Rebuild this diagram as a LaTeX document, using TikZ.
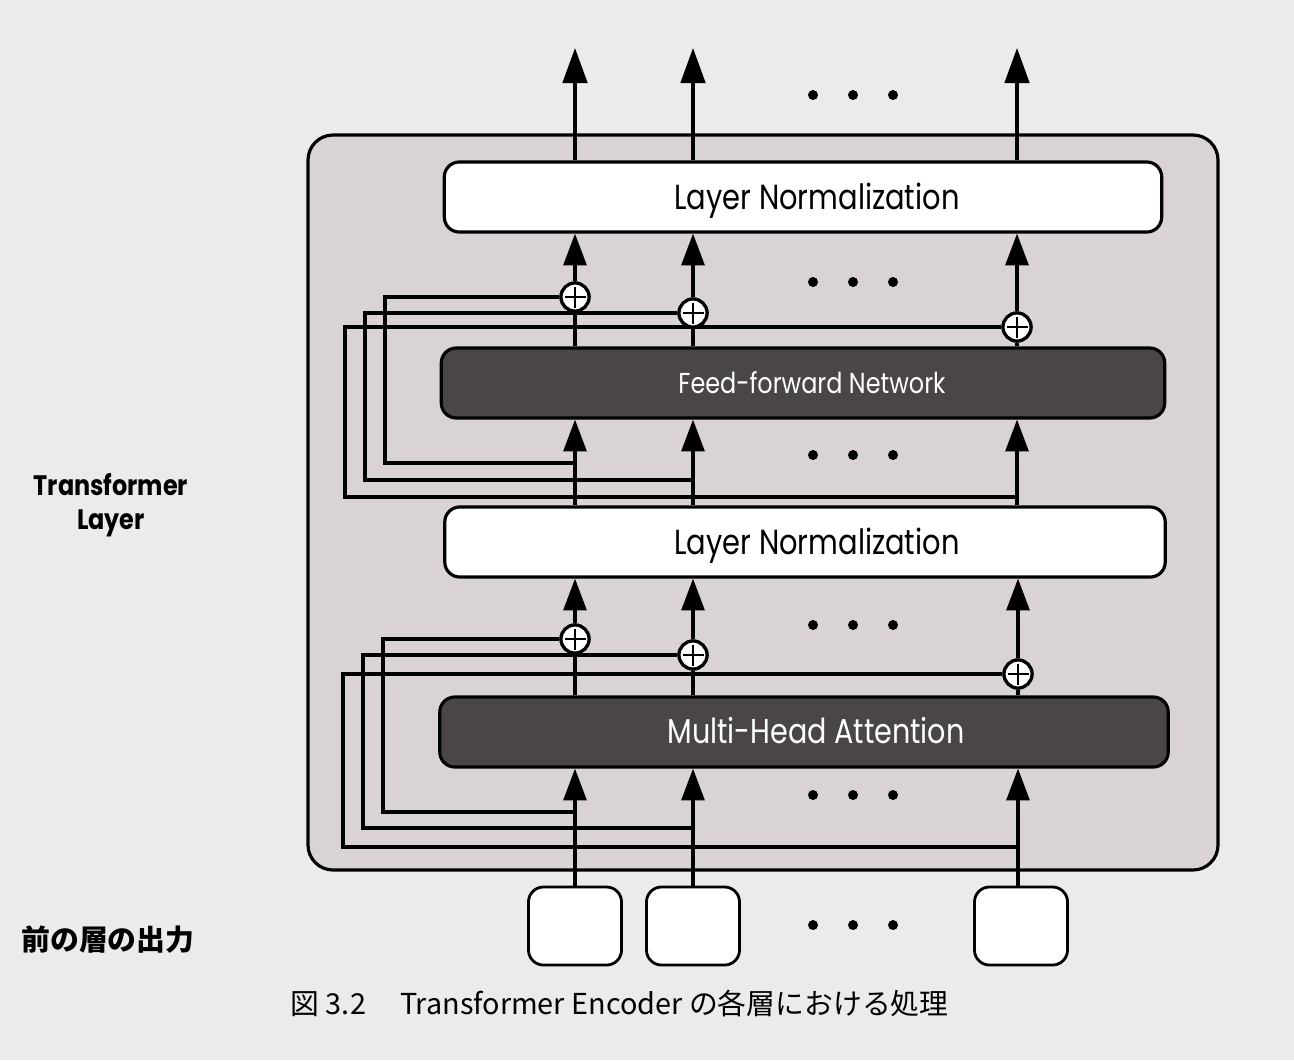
\documentclass[tikz,border=0pt]{standalone}
\usepackage{fontspec}
\setmainfont{Poppins}
\newfontfamily\boxfont[FakeStretch=0.83]{Poppins}
\newfontfamily\labelfont[FakeStretch=0.85]{Poppins}
\newfontfamily\jpfont{Noto Sans CJK JP}
\usetikzlibrary{arrows.meta,positioning}
\definecolor{paper}{HTML}{ECEAEB}
\definecolor{layerbg}{HTML}{D9D2D7}
\definecolor{darkbox}{HTML}{4A4547}
\tikzset{norm box/.style={draw,line width=0.9pt,rounded corners=1.5mm,fill=white,minimum height=0.7cm,inner sep=0pt,text height=6.9pt,text depth=0pt,font=\boxfont\fontsize{9.9}{11}\selectfont},
         sub box/.style={norm box,fill=darkbox,text=white},
         add node/.style={circle,draw,fill=white,line width=0.9pt,minimum size=0.28cm,inner sep=0pt,
             path picture={\draw[line width=0.5pt] ([yshift=-1pt]path picture bounding box.north) -- ([yshift=1pt]path picture bounding box.south)
                                                  ([xshift=1pt]path picture bounding box.west) -- ([xshift=-1pt]path picture bounding box.east);}},
         input box/.style={draw,line width=0.8pt,rounded corners=1.5mm,fill=white,minimum width=0.93cm,minimum height=0.78cm},
         wire/.style={line width=0.9pt},
         flow/.style={wire,-{Triangle[width=6.5pt,length=9pt]}},
         dot/.style={circle,fill=black,minimum size=1mm,inner sep=0pt},
         edge label/.style={font=\labelfont\fontsize{8}{9.6}\selectfont\bfseries,align=center}
}

\begin{document}
\begin{tikzpicture}[x=0.01cm,y=-0.01cm]
\fill[paper] (0,0) rectangle (1294,1060);
\draw[line width=0.9pt,rounded corners=2.5mm,fill=layerbg] (308,135) rectangle (1218,870);

% boxes
\node[norm box,minimum width=7.17cm] (ln2) at (803,197) {\hspace*{2.8mm}Layer Normalization};
\node[sub box,minimum width=7.23cm,text height=5.7pt,font=\boxfont\fontsize{8.2}{9}\selectfont] (ffn) at (803,383) {\hspace*{1.8mm}Feed-forward Network};
\node[norm box,minimum width=7.20cm] (ln1) at (805,542) {\hspace*{2.4mm}Layer Normalization};
\node[sub box,minimum width=7.28cm,text height=6.8pt,font=\boxfont\fontsize{9.8}{11}\selectfont] (mha) at (804,732) {\hspace*{2.4mm}Multi-Head Attention};

\node[input box] (in1) at (575,926) {};
\node[input box] (in2) at (693,926) {};
\node[input box] (in3) at (1021,926) {};

% residual adds
\node[add node] (p1a) at (575,639) {};
\node[add node] (p2a) at (693,655) {};
\node[add node] (p3a) at (1018,674) {};
\node[add node] (p1b) at (575,297) {};
\node[add node] (p2b) at (693,313) {};
\node[add node] (p3b) at (1017,327) {};

\coordinate (t1a) at (575,812);
\coordinate (t2a) at (693,828);
\coordinate (t3a) at (1018,847);
\coordinate (t1b) at (575,463);
\coordinate (t2b) at (693,480);
\coordinate (t3b) at (1017,497);

\coordinate (o1) at (575,48);
\coordinate (o2) at (693,48);
\coordinate (o3) at (1017,48);

% skip wires
\draw[wire] (t1a) -- (383,812) |- (p1a);
\draw[wire] (t2a) -- (363,828) |- (p2a);
\draw[wire] (t3a) -- (343,847) |- (p3a);
\draw[wire] (t1b) -- (385,463) |- (p1b);
\draw[wire] (t2b) -- (365,480) |- (p2b);
\draw[wire] (t3b) -- (345,497) |- (p3b);

% columns
\foreach \i/\p in {1/in1,2/in2,3/in3}{
  \draw[flow] (\p.north -| p\i a) -- (mha.south -| p\i a);
  \draw[wire] (mha.north -| p\i a) -- (p\i a);
  \draw[flow] (p\i a) -- (ln1.south -| p\i a);
  \draw[flow] (ln1.north -| p\i b) -- (ffn.south -| p\i b);
  \draw[wire] (ffn.north -| p\i b) -- (p\i b);
  \draw[flow] (p\i b) -- (ln2.south -| p\i b);
  \draw[flow,-{Triangle[width=7pt,length=10pt]}] (ln2.north -| o\i) -- (o\i);
}
\foreach \i/\p in {1/in1,2/in2,3/in3}{
  \node[add node] at (p\i a) {};
  \node[add node] at (p\i b) {};
}

\foreach \y in {95,282,455,625,795,925}
  \foreach \x in {813,853,893}
    \node[dot] at (\x,\y) {};

% labels
\node[edge label] (lyr) at (111,505) {Transformer\\Layer};
\node[font=\jpfont\bfseries\fontsize{8.2}{10}\selectfont] (prev) at (108,940) {前の層の出力};
\node[font=\jpfont\fontsize{8.2}{10}\selectfont,anchor=west,inner sep=0pt] (cap) at (290,1003) {図 3.2\hspace{3.4mm}Transformer Encoder の各層における処理};
\end{tikzpicture}
\end{document}
